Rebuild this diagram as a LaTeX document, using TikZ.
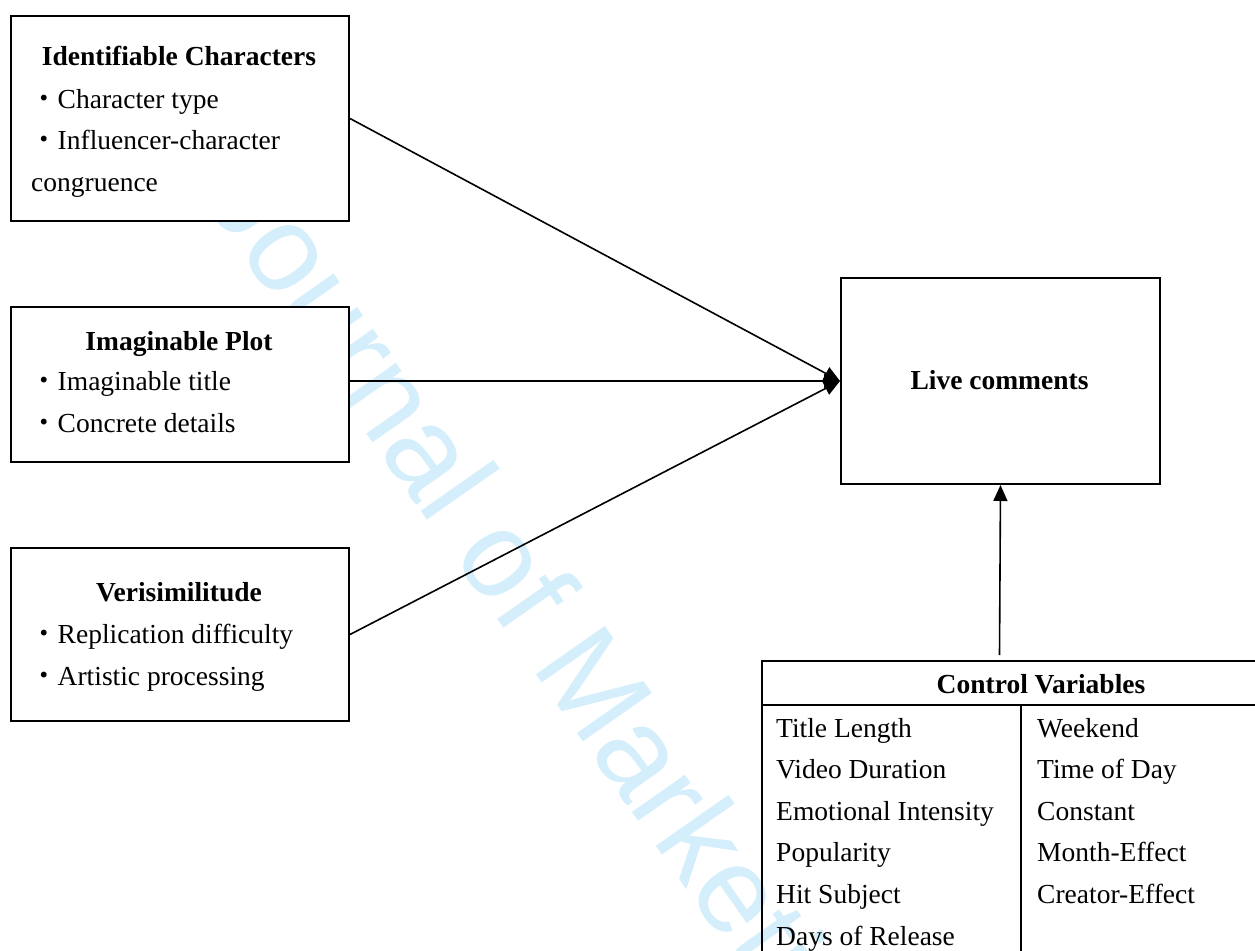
\documentclass[tikz,border=0pt]{standalone}
\usepackage{fontspec}
\setmainfont{Liberation Serif}
\newfontfamily\wmfont{Liberation Sans}
\newfontfamily\jpfont{Noto Sans CJK JP}
\usetikzlibrary{arrows.meta}
\definecolor{wmblue}{RGB}{212,238,251}
\newcommand{\bul}{{\jpfont ・}}
\begin{document}
\begin{tikzpicture}[x=1pt,y=-1pt,
  box/.style={draw, line width=2pt, fill=white, rectangle, inner sep=0pt, anchor=north west},
  txt/.style={anchor=base west, inner sep=0pt, font=\fontsize{27.5}{33}\selectfont},
  ttl/.style={anchor=base, inner sep=0pt, font=\fontsize{27.5}{33}\selectfont\bfseries},
  conn/.style={line width=1.6pt, -{Triangle[length=16pt,width=14pt]}},
  tbl/.style={line width=2pt},
  wm/.style={anchor=base west, inner sep=0pt, text=wmblue, font=\wmfont\fontsize{122.5}{123}\selectfont}
]
\useasboundingbox (0,0) rectangle (1255,950);
% watermark
\node[wm, rotate=-55] (wmark) at (202,198) {Journal of Marketing};

% boxes
\node[box, minimum width=338pt, minimum height=205pt] (ic) at (10,15) {};
\node[box, minimum width=338pt, minimum height=155pt] (ip) at (10,306) {};
\node[box, minimum width=338pt, minimum height=173pt] (vs) at (10,547) {};
\node[box, minimum width=319pt, minimum height=206pt] (lc) at (840,277) {};

% box 1 text
\node[ttl] (ict) at (179,66) {Identifiable Characters};
\node[txt] (ic1) at (30,108) {\bul Character type};
\node[txt] (ic2) at (30,149) {\bul Influencer-character};
\node[txt] (ic3) at (31,191) {congruence};
% box 2 text
\node[ttl] (ipt) at (179,350) {Imaginable Plot};
\node[txt] (ip1) at (30,390) {\bul Imaginable title};
\node[txt] (ip2) at (30,432) {\bul Concrete details};
% box 3 text
\node[ttl] (vst) at (179,601) {Verisimilitude};
\node[txt] (vs1) at (30,643) {\bul Replication difficulty};
\node[txt] (vs2) at (30,685) {\bul Artistic processing};
% live comments
\node[ttl] (lct) at (999.5,389) {Live comments};

% table
\draw[tbl] (1256,661) -- (762,661) -- (762,952);
\draw[tbl] (762,705) -- (1256,705);
\draw[tbl] (1021,705) -- (1021,952);
\node[ttl] (cvt) at (1041,693) {Control Variables};
\foreach \t [count=\i from 0] in {Title Length,Video Duration,Emotional Intensity,Popularity,Hit Subject,Days of Release}
  \node[txt] (cl\i) at (776,737+41.6*\i) {\t};
\foreach \t [count=\i from 0] in {Weekend,Time of Day,Constant,Month-Effect,Creator-Effect}
  \node[txt] (cr\i) at (1037,737+41.6*\i) {\t};
\coordinate (cvtop) at (999.5,655);

% connectors
\draw[conn] (ic.east) -- (lc.west);
\draw[conn] (ip.east |- lc.west) -- (lc.west);
\draw[conn] (vs.east) -- (lc.west);
\draw[conn] (cvtop) -- (lc.south);
\end{tikzpicture}
\end{document}
